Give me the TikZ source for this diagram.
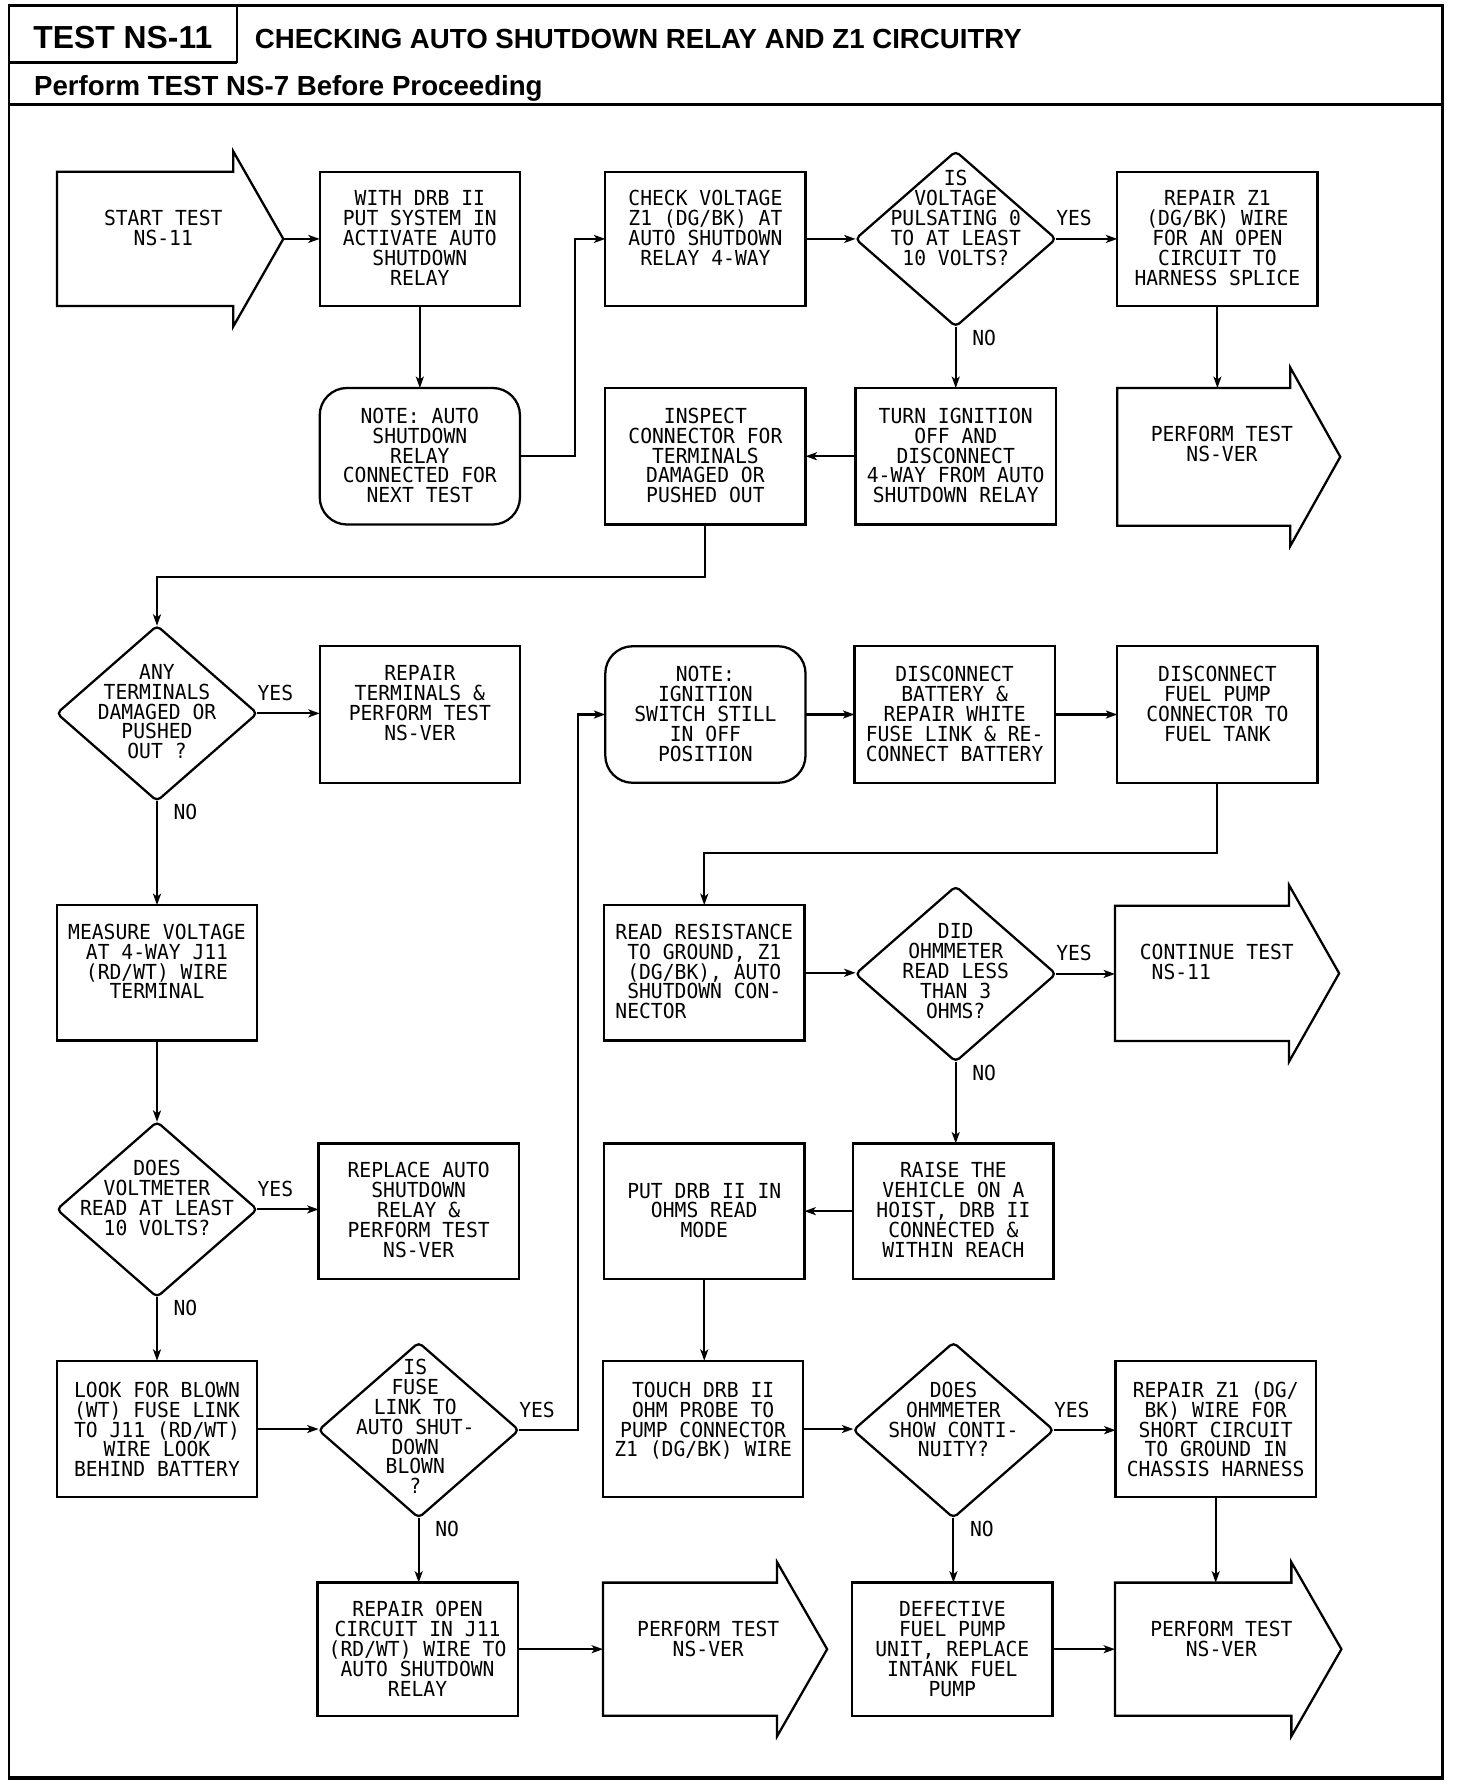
\documentclass[tikz,border=0pt]{standalone}
\usepackage{fontspec}
\usetikzlibrary{shapes.geometric,arrows.meta,calc}
\newfontfamily\cadfont[FakeStretch=0.95]{DejaVu Sans Mono}
\newfontfamily\hdrfont{Liberation Sans}
\newcommand\cadsize{\cadfont\fontsize{18.2}{17.5}\selectfont}
\newcommand\bxt[3][0pt]{\parbox[c][#2][t]{176pt}{\centering\vspace*{\dimexpr15pt+#1\relax}\rule{0pt}{15pt}\ignorespaces#3\par}}
\newcommand\arrowout[1]{\draw[aline] (#1.south west) -- (#1.north west) -- (#1.north east) -- ++(0,-18) -- ($(#1.east)+(44,0)$) -- ($(#1.south east)+(0,18)$) -- (#1.south east) -- cycle;}
\begin{document}
\lineskiplimit=-20pt
\begin{tikzpicture}[x=1pt,y=-1pt,
  every node/.style={inner sep=0pt,outer sep=0pt},
  cad/.style={font=\cadsize},
  box/.style={cad,draw,line width=2pt,rectangle},
  rbox/.style={box,rounded corners=24pt},
  dia/.style={draw,diamond,line width=2pt,minimum width=176pt,minimum height=154pt,rounded corners=4pt},
  abody/.style={rectangle},
  aline/.style={line width=2pt,line join=miter},
  atext/.style={cad,align=center,anchor=north},
  con/.style={line width=1.8pt,-{Stealth[length=10pt,width=7pt,inset=2.5pt]}},
  hdr/.style={font=\hdrfont\bfseries\fontsize{28}{30}\selectfont},
  ttl/.style={font=\hdrfont\bfseries\fontsize{24.3}{26}\selectfont}]
\useasboundingbox (0,0) rectangle (1280,1568);
\fill[white] (0,0) rectangle (1280,1568);
% frame
\draw[line width=2.2pt] (8,5) rectangle (1268,1563);
\draw[line width=2pt] (208,5) -- (208,55) (8,55) -- (208,55);
\draw[line width=3pt] (8,92) -- (1268,92);
\draw[line width=3.5pt] (8,1563) -- (1268,1563);
\node[hdr,anchor=base] (tnum) at (108,43) {TEST NS-11};
\node[ttl,anchor=base west] (title) at (224,43) {CHECKING AUTO SHUTDOWN RELAY AND Z1 CIRCUITRY};
\node[ttl,anchor=base west] (pre) at (30,84) {Perform TEST NS-7 Before Proceeding};
% row 1
\node[abody,minimum width=155pt,minimum height=118pt] (s0) at (127.5,210) {};
\arrowout{s0}
\coordinate (s0tip) at ($(s0.east)+(44,0)$);
\node[atext] (s0t) at ($(s0.north)+(16,32)$) {\rule{0pt}{15pt}START TEST\\NS-11};
\node[box] (with) at (369,210) {\bxt{118pt}{WITH DRB II\\PUT SYSTEM IN\\ACTIVATE AUTO\\SHUTDOWN\\RELAY}};
\node[rbox] (note1) at (369,401) {\bxt[1pt]{120pt}{NOTE: AUTO\\SHUTDOWN\\RELAY\\CONNECTED FOR\\NEXT TEST}};
\node[box] (check) at (620,210) {\bxt{118pt}{CHECK VOLTAGE\\Z1 (DG/BK) AT\\AUTO SHUTDOWN\\RELAY 4-WAY}};
\node[dia] (d1) at (840,210) {};
\node[atext] (d1t) at ($(d1.north)+(0,15)$) {\rule{0pt}{15pt}IS\\VOLTAGE\\PULSATING 0\\TO AT LEAST\\10 VOLTS?};
\node[box] (rz1) at (1070,210) {\bxt{118pt}{REPAIR Z1\\(DG/BK) WIRE\\FOR AN OPEN\\CIRCUIT TO\\HARNESS SPLICE}};
\node[abody,minimum width=152pt,minimum height=121pt] (p1) at (1058,401.5) {};
\arrowout{p1}
\node[atext] (p1t) at ($(p1.north)+(16,32)$) {\rule{0pt}{15pt}PERFORM TEST\\NS-VER};
\node[box] (turn) at (840,401) {\bxt[1pt]{120pt}{TURN IGNITION\\OFF AND\\DISCONNECT\\4-WAY FROM AUTO\\SHUTDOWN RELAY}};
\node[box] (insp) at (620,401) {\bxt[1pt]{120pt}{INSPECT\\CONNECTOR FOR\\TERMINALS\\DAMAGED OR\\PUSHED OUT}};
% row 2
\node[dia] (d2) at (138,627) {};
\node[atext] (d2t) at ($(d2.north)+(0,32)$) {\rule{0pt}{15pt}ANY\\TERMINALS\\DAMAGED OR\\PUSHED\\OUT ?};
\node[box] (rterm) at (369,628) {\bxt{120pt}{REPAIR\\TERMINALS \&\\PERFORM TEST\\NS-VER}};
\node[rbox] (note2) at (620,628) {\bxt[1pt]{120pt}{NOTE:\\IGNITION\\SWITCH STILL\\IN OFF\\POSITION}};
\node[box] (dbatt) at (839,628) {\bxt[1pt]{120pt}{DISCONNECT\\BATTERY \&\\REPAIR WHITE\\FUSE LINK \& RE-\\CONNECT BATTERY}};
\node[box] (dfuel) at (1070,628) {\bxt[1pt]{120pt}{DISCONNECT\\FUEL PUMP\\CONNECTOR TO\\FUEL TANK}};
% row 3
\node[box] (meas) at (138,855) {\bxt{119pt}{MEASURE VOLTAGE\\AT 4-WAY J11\\(RD/WT) WIRE\\TERMINAL}};
\node[box] (read) at (619,855) {\bxt{119pt}{READ RESISTANCE\\TO GROUND, Z1\\(DG/BK), AUTO\\SHUTDOWN CON-\\NECTOR\hphantom{XXXXXXXXX}}};
\node[dia] (d5) at (840,856) {};
\node[atext] (d5t) at ($(d5.north)+(0,31)$) {\rule{0pt}{15pt}DID\\OHMMETER\\READ LESS\\THAN 3\\OHMS?};
\node[abody,minimum width=153pt,minimum height=119pt] (cont) at (1056.5,855.5) {};
\arrowout{cont}
\node[atext,align=left] (contt) at ($(cont.north)+(13,32)$) {\rule{0pt}{15pt}CONTINUE TEST\\\hphantom{C}NS-11};
% row 4
\node[dia] (d3) at (138,1063) {};
\node[atext] (d3t) at ($(d3.north)+(0,32)$) {\rule{0pt}{15pt}DOES\\VOLTMETER\\READ AT LEAST\\10 VOLTS?};
\node[box] (repl) at (368,1064.5) {\bxt{119pt}{REPLACE AUTO\\SHUTDOWN\\RELAY \&\\PERFORM TEST\\NS-VER}};
\node[box] (put) at (619,1064.5) {\bxt[18pt]{119pt}{PUT DRB II IN\\OHMS READ\\MODE}};
\node[box] (raise) at (838,1064.5) {\bxt{119pt}{RAISE THE\\VEHICLE ON A\\HOIST, DRB II\\CONNECTED \&\\WITHIN REACH}};
% row 5
\node[box] (look) at (138,1256) {\bxt[2pt]{120pt}{LOOK FOR BLOWN\\(WT) FUSE LINK\\TO J11 (RD/WT)\\WIRE LOOK\\BEHIND BATTERY}};
\node[dia] (d4) at (368,1257) {};
\node[atext] (d4t) at ($(d4.north)+(-3,13)$) {\rule{0pt}{15pt}IS\\FUSE\\LINK TO\\AUTO SHUT-\\DOWN\\BLOWN\\?};
\node[box] (touch) at (618,1256) {\bxt[2pt]{120pt}{TOUCH DRB II\\OHM PROBE TO\\PUMP CONNECTOR\\Z1 (DG/BK) WIRE}};
\node[dia] (d6) at (838,1257) {};
\node[atext] (d6t) at ($(d6.north)+(0,33)$) {\rule{0pt}{15pt}DOES\\OHMMETER\\SHOW CONTI-\\NUITY?};
\node[box] (rz2) at (1068.5,1256) {\bxt[2pt]{120pt}{REPAIR Z1 (DG/\\BK) WIRE FOR\\SHORT CIRCUIT\\TO GROUND IN\\CHASSIS HARNESS}};
% row 6
\node[box] (ropen) at (367,1449.5) {\bxt{117pt}{REPAIR OPEN\\CIRCUIT IN J11\\(RD/WT) WIRE TO\\AUTO SHUTDOWN\\RELAY}};
\node[abody,minimum width=153pt,minimum height=117pt] (p2) at (606.5,1449.5) {};
\arrowout{p2}
\node[atext] (p2t) at ($(p2.north)+(16,32)$) {\rule{0pt}{15pt}PERFORM TEST\\NS-VER};
\node[box] (def) at (837,1449.5) {\bxt{117pt}{DEFECTIVE\\FUEL PUMP\\UNIT, REPLACE\\INTANK FUEL\\PUMP}};
\node[abody,minimum width=155pt,minimum height=117pt] (p3) at (1057.5,1449.5) {};
\arrowout{p3}
\node[atext] (p3t) at ($(p3.north)+(16,32)$) {\rule{0pt}{15pt}PERFORM TEST\\NS-VER};
% labels
\node[cad] (y1) at ($(d1.east)+(16,-18)$) {YES};
\node[cad] (n1) at ($(d1.south)+(25,10)$) {NO};
\node[cad] (y2) at ($(d2.east)+(16,-18)$) {YES};
\node[cad] (n2) at ($(d2.south)+(25,10)$) {NO};
\node[cad] (y3) at ($(d3.east)+(16,-18)$) {YES};
\node[cad] (n3) at ($(d3.south)+(25,10)$) {NO};
\node[cad] (y4) at ($(d4.east)+(16,-18)$) {YES};
\node[cad] (n4) at ($(d4.south)+(25,10)$) {NO};
\node[cad] (y5) at ($(d5.east)+(16,-18)$) {YES};
\node[cad] (n5) at ($(d5.south)+(25,10)$) {NO};
\node[cad] (y6) at ($(d6.east)+(16,-18)$) {YES};
\node[cad] (n6) at ($(d6.south)+(25,10)$) {NO};
% connectors
\draw[con] (s0tip) -- (with.west);
\draw[con] (with.south) -- (note1.north);
\draw[con] (note1.east) -- ++(48,0) |- (check.west);
\draw[con] (check.east) -- (d1.west);
\draw[con] (d1.east) -- (rz1.west);
\draw[con] (d1.south) -- (turn.north);
\draw[con] (rz1.south) -- (rz1.south |- p1.north);
\draw[con] (turn.west) -- (insp.east);
\draw[con] (insp.south) -- ++(0,46) -| (d2.north);
\draw[con] (d2.east) -- (d2.east -| rterm.west);
\draw[con] (d2.south) -- (meas.north);
\draw[con] (meas.south) -- (d3.north);
\draw[con] (d3.east) -- (d3.east -| repl.west);
\draw[con] (d3.south) -- (look.north);
\draw[con] (look.east) -- (look.east -| d4.west);
\draw[con] (d4.east) -- ++(52,0) |- (note2.west);
\draw[con] (d4.south) -- (d4.south |- ropen.north);
\draw[con] (ropen.east) -- (ropen.east -| p2.west);
\draw[con] (note2.east) -- (dbatt.west);
\draw[con] (dbatt.east) -- (dfuel.west);
\draw[con] (dfuel.south) -- ++(0,62) -| (read.north);
\draw[con] (read.east) -- (read.east -| d5.west);
\draw[con] (d5.east) -- (d5.east -| cont.west);
\draw[con] (d5.south) -- (d5.south |- raise.north);
\draw[con] (raise.west) -- (raise.west -| put.east);
\draw[con] (put.south) -- (put.south |- touch.north);
\draw[con] (touch.east) -- (touch.east -| d6.west);
\draw[con] (d6.east) -- (d6.east -| rz2.west);
\draw[con] (d6.south) -- (d6.south |- def.north);
\draw[con] (def.east) -- (def.east -| p3.west);
\draw[con] (rz2.south) -- (rz2.south |- p3.north);
\end{tikzpicture}
\end{document}
